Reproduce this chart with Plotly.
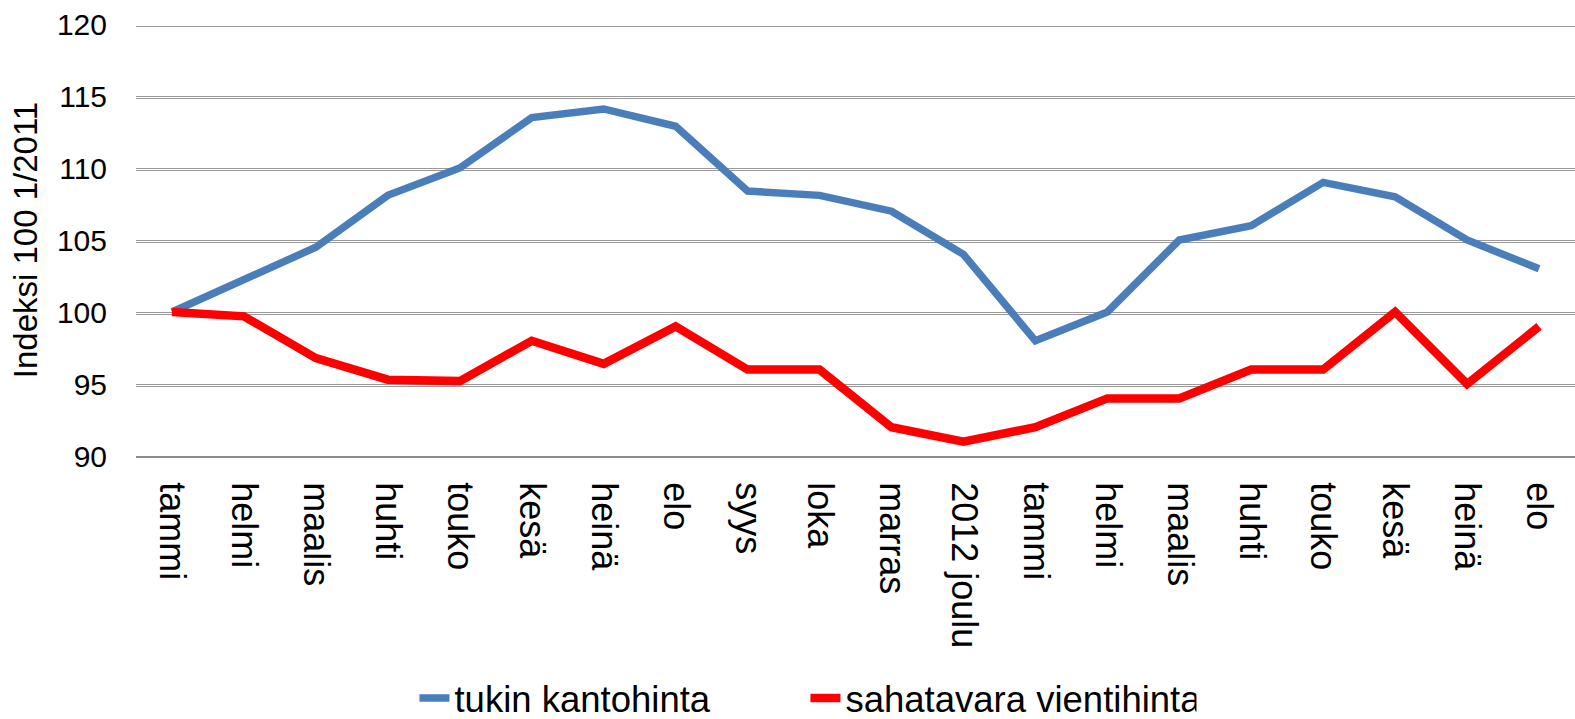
import plotly.graph_objects as go

months = ["tammi", "helmi", "maalis", "huhti", "touko", "kesä", "heinä", "elo",
          "syys", "loka", "marras", "2012 joulu", "tammi", "helmi", "maalis",
          "huhti", "touko", "kesä", "heinä", "elo"]
tukin_kantohinta = [100, 102.3, 104.5, 108.1, 110, 113.5, 114.1, 112.9, 108.4, 108.1,
                    107, 104, 98, 100, 105, 106, 109, 108, 105, 103]
sahatavara_vientihinta = [100, 99.7, 96.8, 95.3, 95.2, 98, 96.4, 99, 96, 96,
                          92, 91, 92, 94, 94, 96, 96, 100, 95, 99]
y_ticks = [90, 95, 100, 105, 110, 115, 120]

FONT = "Liberation Sans"
x_idx = list(range(len(months)))

fig = go.Figure()
fig.add_trace(go.Scatter(x=x_idx, y=tukin_kantohinta, mode="lines",
                         name="tukin kantohinta",
                         line=dict(color="#4A7EBB", width=7.5)))
fig.add_trace(go.Scatter(x=x_idx, y=sahatavara_vientihinta, mode="lines",
                         name="sahatavara vientihinta",
                         line=dict(color="#FF0000", width=8.5)))

fig.update_layout(
    width=1575, height=719,
    margin=dict(l=136, r=0, t=24, b=263, autoexpand=False),
    paper_bgcolor="white", plot_bgcolor="white",
    font=dict(family=FONT, color="black"),
    showlegend=True,
    legend=dict(orientation="h", x=0.1935, xanchor="left", y=-0.561, yanchor="middle",
                font=dict(size=36.5, family=FONT), bgcolor="rgba(0,0,0,0)",
                entrywidth=346, entrywidthmode="pixels"),
    xaxis=dict(
        automargin=False,
        range=[-0.5, len(months) - 0.5],
        tickmode="array", tickvals=x_idx, ticktext=months,
        tickangle=90, tickfont=dict(size=36, family=FONT),
        showgrid=False, zeroline=False,
        showline=True, linecolor="#8C8C8C", linewidth=2,
        ticks="", ticklabelstandoff=17,
    ),
    yaxis=dict(
        automargin=False,
        range=[90, 120], tickmode="array", tickvals=y_ticks,
        tickfont=dict(size=30, family=FONT),
        showgrid=True, gridcolor="#9A9A9A", gridwidth=1.3,
        minor=dict(tickmode="array", tickvals=[v - 0.2 for v in y_ticks[1:]],
                   showgrid=True, gridcolor="#9A9A9A", gridwidth=1.3, ticks=""),
        zeroline=False, showline=False, ticks="", ticklabelstandoff=28,
        title=dict(text="Indeksi 100 1/2011", font=dict(size=33, family=FONT), standoff=9),
    ),
)

fig.write_html("out.html",
               config={"displayModeBar": False},
               post_script="document.body.style.margin='0';document.body.style.overflow='hidden';")
